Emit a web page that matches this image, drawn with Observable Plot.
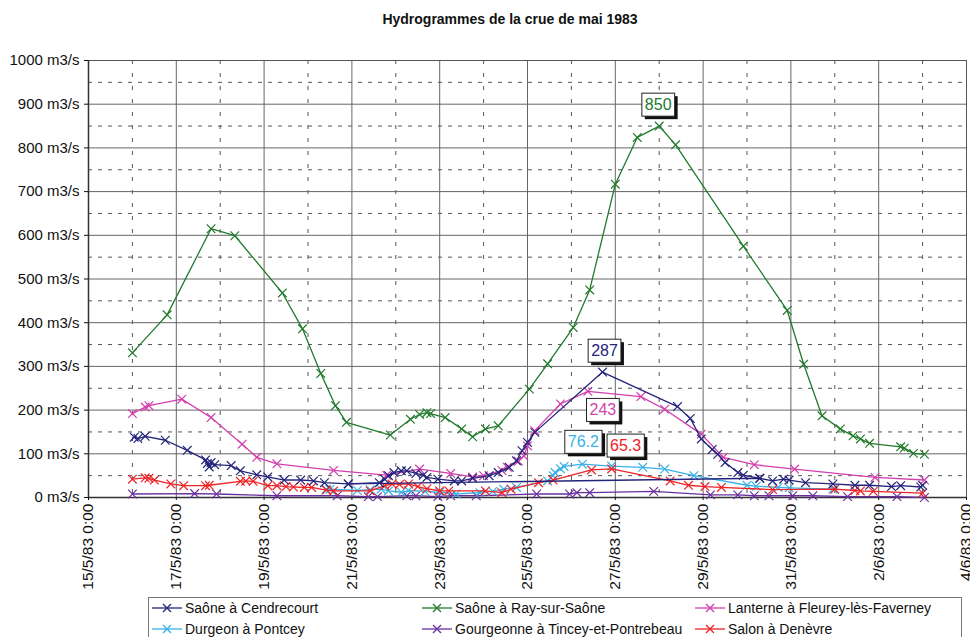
<!DOCTYPE html>
<html>
<head>
<meta charset="utf-8">
<script src="https://cdn.jsdelivr.net/npm/d3@7"></script>
<script src="https://cdn.jsdelivr.net/npm/@observablehq/plot@0.6"></script>
<style>
  body { margin: 0; background: #fff; }
  #wrap { position: relative; width: 970px; height: 637px; overflow: hidden; font-family: "Liberation Sans", Arial, sans-serif; color: #111; }
  #title { position: absolute; left: 25px; top: 11px; width: 970px; text-align: center; font-weight: bold; font-size: 14px; }
  #chart { position: absolute; left: 0; top: 40px; }
  #legend { position: absolute; left: 148px; top: 597px; width: 814px; height: 60px; border: 1px solid #777; box-sizing: border-box; }
  .li { position: absolute; display: flex; align-items: center; font-size: 14px; white-space: nowrap; height: 18px; }
  .li svg { margin-right: 3px; }
</style>
</head>
<body>
<div id="wrap">
  <div id="title">Hydrogrammes de la crue de mai 1983</div>
  <div id="chart"></div>
  <div id="legend"></div>
</div>
<script>
// ---------- DATA ----------
const seriesNames = [
  "Saône à Cendrecourt", "Saône à Ray-sur-Saône", "Lanterne à Fleurey-lès-Faverney",
  "Durgeon à Pontcey", "Gourgeonne à Tincey-et-Pontrebeau", "Salon à Denèvre"
];

// Saône à Ray-sur-Saône
const rayTimes = ["16/05/83 00:00","16/05/83 19:00","17/05/83 19:00","18/05/83 08:00","19/05/83 10:00","19/05/83 21:00","20/05/83 07:00","20/05/83 15:00","20/05/83 21:00","21/05/83 21:00","22/05/83 08:00","22/05/83 13:00","22/05/83 17:00","22/05/83 19:00","23/05/83 03:00","23/05/83 12:00","23/05/83 18:00","24/05/83 01:00","24/05/83 08:00","25/05/83 01:00","25/05/83 11:00","26/05/83 01:00","26/05/83 10:00","27/05/83 00:00","27/05/83 12:00","28/05/83 00:00","28/05/83 09:00","29/05/83 22:00","30/05/83 22:00","31/05/83 07:00","31/05/83 17:00","01/06/83 03:00","01/06/83 10:00","01/06/83 14:00","01/06/83 19:00","02/06/83 12:00","02/06/83 14:00","02/06/83 19:00","03/06/83 01:00"];
const rayValues = [331,418,615,599,468,386,284,210,172,143,179,190,194,192,183,157,139,157,164,248,306,389,475,717,824,850,807,575,428,305,187,157,141,134,124,116,113,101,99];

// Saône à Cendrecourt (rows in the order of the source table: early + recession, then the flood rows)
const cendTimesA = ["16/05/83 01:00","16/05/83 03:00","16/05/83 07:00","16/05/83 18:00","17/05/83 06:00","17/05/83 16:00","17/05/83 17:00","17/05/83 18:00","17/05/83 19:00","17/05/83 21:00","18/05/83 06:00","18/05/83 11:00","18/05/83 20:00","19/05/83 02:00","19/05/83 11:00","19/05/83 20:00","20/05/83 03:00","20/05/83 09:00","20/05/83 22:00","30/05/83 07:00","30/05/83 14:00","30/05/83 20:00","30/05/83 23:00","31/05/83 08:00","31/05/83 23:00","01/06/83 11:00","01/06/83 19:00","02/06/83 07:00","02/06/83 12:00","02/06/83 23:00","03/06/83 00:00"];
const cendValuesA = [138,135,140,131,108,86,78,70,80,75,73,61,52,47,40,40,38,34,31,44,38,42,40,34,31,28,28,25,27,24,28];
const cendTimesB = ["20/05/83 22:00","21/05/83 15:00","21/05/83 18:00","21/05/83 20:00","21/05/83 23:00","22/05/83 03:00","22/05/83 06:00","22/05/83 11:00","22/05/83 15:00","22/05/83 17:00","22/05/83 23:00","23/05/83 08:00","23/05/83 12:00","23/05/83 18:00","24/05/83 03:00","24/05/83 08:00","24/05/83 14:00","24/05/83 18:00","24/05/83 21:00","25/05/83 00:00","25/05/83 04:00","26/05/83 17:00","28/05/83 10:00","28/05/83 17:00","28/05/83 23:00","29/05/83 05:00","29/05/83 08:00","29/05/83 12:00","29/05/83 19:00","29/05/83 22:00","30/05/83 07:00"];
const cendValuesB = [31,34,42,50,57,61,61,55,51,46,42,38,38,44,50,57,69,84,107,126,149,287,208,181,134,110,99,80,57,51,44];

// Lanterne à Fleurey-lès-Faverney
const lanTimes = ["16/05/83 00:00","16/05/83 07:00","16/05/83 09:00","17/05/83 03:00","17/05/83 19:00","18/05/83 12:00","18/05/83 20:00","19/05/83 07:00","20/05/83 14:00","21/05/83 19:00","22/05/83 13:00","23/05/83 06:00","23/05/83 18:00","24/05/83 00:00","24/05/83 10:00","24/05/83 13:00","24/05/83 19:00","24/05/83 22:00","25/05/83 00:00","25/05/83 04:00","25/05/83 18:00","26/05/83 09:00","27/05/83 14:00","28/05/83 03:00","28/05/83 23:00","29/05/83 11:00","30/05/83 04:00","31/05/83 02:00","01/06/83 22:00","03/06/83 01:00"];
const lanValues = [192,207,210,225,183,122,92,77,62,51,65,55,47,50,62,69,83,95,118,153,214,243,231,202,145,92,75,65,46,40];

// Durgeon à Pontcey
const durTimes = ["20/05/83 10:00","20/05/83 12:00","21/05/83 03:00","21/05/83 10:00","21/05/83 16:00","21/05/83 20:00","22/05/83 03:00","22/05/83 07:00","22/05/83 16:00","23/05/83 00:00","23/05/83 09:00","23/05/83 22:00","24/05/83 05:00","24/05/83 11:00","24/05/83 18:00","25/05/83 11:00","25/05/83 14:00","25/05/83 15:00","25/05/83 18:00","25/05/83 20:00","26/05/83 06:00","26/05/83 22:00","27/05/83 15:00","28/05/83 03:00","28/05/83 19:00","30/05/83 00:00","30/05/83 05:00","30/05/83 17:00","30/05/83 23:00","31/05/83 23:00"];
const durValues = [19,19,16,18,19,15,12,16,14,12,8,11,14,19,23,38,50,57,66,71,76.2,72,69,65,50,28,26,23,22,19];

// Gourgeonne à Tincey-et-Pontrebeau
const gouTimes = ["16/05/83 00:00","17/05/83 10:00","17/05/83 22:00","19/05/83 07:00","20/05/83 16:00","21/05/83 09:00","21/05/83 14:00","22/05/83 06:00","22/05/83 11:00","22/05/83 23:00","23/05/83 06:00","23/05/83 20:00","25/05/83 05:00","25/05/83 23:00","26/05/83 03:00","26/05/83 10:00","27/05/83 21:00","29/05/83 04:00","29/05/83 19:00","30/05/83 04:00","30/05/83 12:00","31/05/83 01:00","31/05/83 12:00","01/06/83 07:00","02/06/83 10:00","03/06/83 01:00"];
const gouValues = [8,9,8,4,4,2,2,4,4,2,4,4,8,8,11,11,14,6,6,4,4,4,4,2,2,0];

// Salon à Denèvre
const salTimes = ["16/05/83 00:00","16/05/83 07:00","16/05/83 09:00","16/05/83 12:00","16/05/83 21:00","17/05/83 04:00","17/05/83 16:00","17/05/83 18:00","18/05/83 11:00","18/05/83 14:00","18/05/83 18:00","19/05/83 02:00","19/05/83 07:00","19/05/83 12:00","19/05/83 16:00","19/05/83 22:00","20/05/83 02:00","20/05/83 10:00","20/05/83 14:00","21/05/83 10:00","21/05/83 18:00","21/05/83 22:00","22/05/83 02:00","22/05/83 07:00","22/05/83 12:00","22/05/83 17:00","23/05/83 00:00","23/05/83 05:00","24/05/83 01:00","24/05/83 10:00","24/05/83 15:00","25/05/83 06:00","25/05/83 14:00","26/05/83 11:00","26/05/83 22:00","28/05/83 06:00","28/05/83 16:00","29/05/83 01:00","29/05/83 10:00","30/05/83 14:00","01/06/83 00:00","01/06/83 11:00","01/06/83 14:00","01/06/83 21:00","03/06/83 00:00"];
const salValues = [42,45,44,40,31,27,27,28,37,38,37,27,27,25,24,23,23,17,15,15,27,31,30,31,25,20,15,15,15,11,19,34,40,63,65.3,38,28,25,23,18,19,16,15,14,10];

// Axis ticks
const xMajorTicks = ["15/05/83 00:00","17/05/83 00:00","19/05/83 00:00","21/05/83 00:00","23/05/83 00:00","25/05/83 00:00","27/05/83 00:00","29/05/83 00:00","31/05/83 00:00","02/06/83 00:00","04/06/83 00:00"];
const xMinorTicks = ["16/05/83 00:00","18/05/83 00:00","20/05/83 00:00","22/05/83 00:00","24/05/83 00:00","26/05/83 00:00","28/05/83 00:00","30/05/83 00:00","01/06/83 00:00","03/06/83 00:00"];
const yMajorTicks = [0,100,200,300,400,500,600,700,800,900,1000];
const yMinorTicks = [50,150,250,350,450,550,650,750,850,950];

// ---------- BUILD ----------
const parseT = d3.utcParse("%d/%m/%y %H:%M");
const fmtT = d3.utcFormat("%-d/%-m/%y %-H:%M");
const colors = {
  "Saône à Cendrecourt": "#24247c",
  "Saône à Ray-sur-Saône": "#217a2b",
  "Lanterne à Fleurey-lès-Faverney": "#d23fae",
  "Durgeon à Pontcey": "#38b2e8",
  "Gourgeonne à Tincey-et-Pontrebeau": "#6a2f9e",
  "Salon à Denèvre": "#f02226"
};
const rows = (name, times, values, part = "a") =>
  times.map((t, i) => ({series: name, part, t: parseT(t), v: values[i]}));

const data = {
  "Saône à Cendrecourt": [...rows(seriesNames[0], cendTimesA, cendValuesA, "a"), ...rows(seriesNames[0], cendTimesB, cendValuesB, "b")],
  "Saône à Ray-sur-Saône": rows(seriesNames[1], rayTimes, rayValues),
  "Lanterne à Fleurey-lès-Faverney": rows(seriesNames[2], lanTimes, lanValues),
  "Durgeon à Pontcey": rows(seriesNames[3], durTimes, durValues),
  "Gourgeonne à Tincey-et-Pontrebeau": rows(seriesNames[4], gouTimes, gouValues),
  "Salon à Denèvre": rows(seriesNames[5], salTimes, salValues)
};

const drawOrder = [seriesNames[4], seriesNames[3], seriesNames[5], seriesNames[2], seriesNames[1], seriesNames[0]];
const seriesMarks = drawOrder.flatMap(name => [
  Plot.line(data[name], {x: "t", y: "v", z: "part", stroke: colors[name], strokeWidth: 1.3}),
  Plot.dot(data[name], {x: "t", y: "v", symbol: "times", r: 4, stroke: colors[name], strokeWidth: 1.2})
]);

// peak annotations (label offsets in px)
const notes = [
  {name: seriesNames[1], dx: -1, dy: -21},
  {name: seriesNames[0], dx: 2, dy: -21},
  {name: seriesNames[2], dx: 15, dy: 19},
  {name: seriesNames[3], dx: 1, dy: -22},
  {name: seriesNames[5], dx: 14, dy: -23}
];
const noteMarks = notes.map(n => Plot.text([d3.greatest(data[n.name], d => d.v)], {
  x: "t", y: "v", text: d => String(d.v), dx: n.dx, dy: n.dy,
  fill: colors[n.name], fontSize: 16, className: "peak-note"
}));

const tParsed = a => a.map(parseT);

const chart = Plot.plot({
  width: 970,
  height: 555,
  marginLeft: 88,
  marginRight: 4,
  marginTop: 20,
  marginBottom: 98,
  style: {fontFamily: "'Liberation Sans', Arial, sans-serif", fontSize: "14px", color: "#111", background: "transparent", overflow: "visible"},
  x: {type: "utc", domain: [parseT(xMajorTicks[0]), parseT(xMajorTicks[xMajorTicks.length - 1])], label: null},
  y: {domain: [0, 1000], label: null},
  marks: [
    Plot.ruleY(yMinorTicks, {stroke: "#555", strokeWidth: 1, strokeDasharray: "4,6"}),
    Plot.ruleX(tParsed(xMinorTicks), {stroke: "#555", strokeWidth: 1, strokeDasharray: "4,9"}),
    Plot.ruleY(yMajorTicks, {stroke: "#666", strokeWidth: 1}),
    Plot.ruleX(tParsed(xMajorTicks), {stroke: "#666", strokeWidth: 1}),
    Plot.frame({stroke: "#555", strokeWidth: 1}),
    Plot.ruleY([0], {stroke: "#333", strokeWidth: 1.5}),
    Plot.ruleX([parseT(xMajorTicks[0])], {stroke: "#333", strokeWidth: 1.5}),
    Plot.axisY(yMajorTicks, {tickFormat: d => `${d} m3/s`, tickSize: 4, tickPadding: 5, fontSize: 15, label: null}),
    Plot.axisX(tParsed(xMajorTicks), {tickFormat: fmtT, tickRotate: -90, tickSize: 3, tickPadding: 3, fontSize: 15.5, label: null}),
    ...seriesMarks,
    ...noteMarks
  ]
});
document.getElementById("chart").append(chart);

// boxes with drop shadow behind the peak labels
const NS = "http://www.w3.org/2000/svg";
const noteTexts = new Set();
chart.querySelectorAll(".peak-note").forEach(el => {
  if (el.tagName.toLowerCase() === "text") noteTexts.add(el);
  el.querySelectorAll("text").forEach(t => noteTexts.add(t));
});
noteTexts.forEach(t => {
  const b = t.getBBox();
  const tr = t.getAttribute("transform") || "";
  const px = 3, py = 3;
  const mk = (off, fill, stroke) => {
    const r = document.createElementNS(NS, "rect");
    r.setAttribute("x", b.x - px + off);
    r.setAttribute("y", b.y - py + off);
    r.setAttribute("width", b.width + 2 * px);
    r.setAttribute("height", b.height + 2 * py);
    r.setAttribute("fill", fill);
    r.setAttribute("stroke", stroke || "none");
    r.setAttribute("stroke-width", 1);
    if (tr) r.setAttribute("transform", tr);
    t.parentNode.insertBefore(r, t);
  };
  mk(3, "#111", null);
  mk(0, "#fff", "#222");
});

// legend
const legendPos = [
  [152, 599], [422, 599], [695, 599],
  [152, 620], [422, 620], [695, 620]
];
const legend = document.getElementById("wrap");
seriesNames.forEach((name, i) => {
  const c = colors[name];
  const div = document.createElement("div");
  div.className = "li";
  div.style.left = legendPos[i][0] + "px";
  div.style.top = legendPos[i][1] + "px";
  div.innerHTML = `<svg width="30" height="18"><line x1="0" x2="30" y1="9" y2="9" stroke="${c}" stroke-width="1.3"/>` +
    `<path d="M11,5L19,13M19,5L11,13" stroke="${c}" stroke-width="1.3" fill="none"/></svg><span>${name}</span>`;
  legend.appendChild(div);
});
</script>
</body>
</html>
